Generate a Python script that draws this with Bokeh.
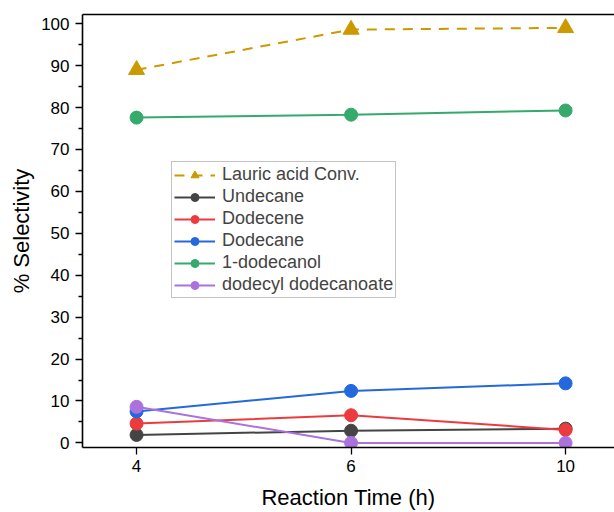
from bokeh.plotting import figure
from bokeh.models import Range1d, FixedTicker, LinearAxis, Legend, LegendItem
from bokeh.embed import file_html
from bokeh.resources import INLINE

times = ["4", "6", "10"]
lauric_conv = [89.0, 98.6, 99.0]
undecane = [1.9, 2.9, 3.4]
dodecene = [4.6, 6.6, 3.1]
dodecane = [7.5, 12.4, 14.2]
dodecanol = [77.6, 78.3, 79.3]
dodecyl_dodecanoate = [8.6, 0.0, 0.0]

xs = list(range(len(times)))
FONT = "Liberation Sans"

p = figure(width=614, height=512, output_backend="svg", toolbar_location=None,
           x_range=Range1d(-0.252, 2.228), y_range=Range1d(-1.1, 102.2),
           min_border_left=82, min_border_right=0, min_border_top=14, min_border_bottom=65)
p.outline_line_color = None
p.xgrid.visible = False
p.ygrid.visible = False

for ax in (p.xaxis[0], p.yaxis[0]):
    ax.axis_line_width = 1.6
    ax.axis_line_color = "black"
    ax.major_tick_line_width = 1.3
    ax.minor_tick_line_width = 1.3
    ax.major_tick_in = 0
    ax.major_tick_out = 7
    ax.minor_tick_in = 0
    ax.minor_tick_out = 4
    ax.major_label_text_font = FONT
    ax.major_label_text_font_size = "17px"
    ax.major_label_text_color = "black"
    ax.axis_label_text_font = FONT
    ax.axis_label_text_font_size = "22px"
    ax.axis_label_text_font_style = "normal"
    ax.axis_label_text_color = "black"

p.xaxis.ticker = FixedTicker(ticks=xs, minor_ticks=[])
p.xaxis.major_label_overrides = {i: t for i, t in enumerate(times)}
p.xaxis.axis_label = "Reaction Time (h)"
p.xaxis.major_label_standoff = 5
p.xaxis.axis_label_standoff = 10

p.yaxis.ticker = FixedTicker(ticks=list(range(0, 101, 10)), minor_ticks=list(range(5, 101, 10)))
p.yaxis.axis_label = "% Selectivity"
p.yaxis.major_label_standoff = 6
p.yaxis.axis_label_standoff = 4

top = LinearAxis(axis_line_width=1.6, axis_line_color="black",
                 ticker=FixedTicker(ticks=[], minor_ticks=[]),
                 major_tick_line_color=None, minor_tick_line_color=None,
                 major_label_standoff=0)
p.add_layout(top, "above")

series = [
    ("Lauric acid Conv.", lauric_conv, "#CC9900", "triangle", "10 8"),
    ("Undecane", undecane, "#444444", "circle", "solid"),
    ("Dodecene", dodecene, "#EC3B3F", "circle", "solid"),
    ("Dodecane", dodecane, "#2468DE", "circle", "solid"),
    ("1-dodecanol", dodecanol, "#36AA6C", "circle", "solid"),
    ("dodecyl dodecanoate", dodecyl_dodecanoate, "#AB72DE", "circle", "solid"),
]

items = []
for name, vals, color, marker, dash in series:
    ln = p.line(xs, vals, line_color=color, line_width=2, line_dash=dash)
    sz = 16 if marker == "triangle" else 13
    sc = p.scatter(xs, vals, marker=marker, size=sz, fill_color=color, line_color=color)
    items.append(LegendItem(label=name, renderers=[ln, sc]))

legend = Legend(items=items, location=(89, 149), glyph_width=41, glyph_height=20,
                label_height=20, spacing=1, padding=2, margin=0, label_standoff=7,
                label_text_font=FONT, label_text_font_size="18px",
                border_line_color="#888888", border_line_width=1,
                background_fill_alpha=1.0)
p.add_layout(legend, "center")

open("out.html", "w").write(file_html(p, INLINE))
